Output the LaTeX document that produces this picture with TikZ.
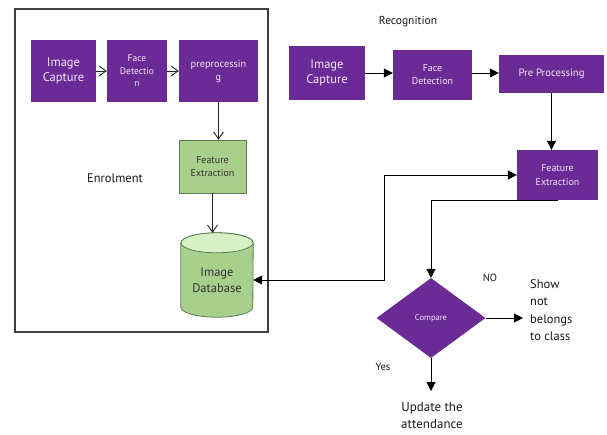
\documentclass[tikz,border=0pt]{standalone}
\usepackage{fontspec}
\setmainfont{PT Sans}
\usetikzlibrary{arrows.meta,shapes.geometric,calc}
\definecolor{purp}{HTML}{6A2B96}
\definecolor{grn}{HTML}{A9CF8C}
\definecolor{grnlt}{HTML}{D8F0C6}
\definecolor{grnbd}{HTML}{5E7A52}
\definecolor{boxtxt}{HTML}{F4E6F8}
\tikzset{
  pbox/.style={rectangle, fill=purp, text=boxtxt, inner sep=1pt, align=center},
  gbox/.style={rectangle, fill=grn, draw=grnbd, line width=0.8pt, text=black!80, inner sep=1pt, align=center},
  openarr/.style={-{Straight Barb[length=7pt,width=10pt]}, line width=0.9pt, black!85},
  fillarr/.style={-{Triangle[length=9pt,width=9pt]}, line width=1pt, black},
  lbl/.style={text=black!90, inner sep=1pt}
}
\begin{document}
\begin{tikzpicture}[x=1pt,y=-1pt]
\useasboundingbox (0,0) rectangle (607,434);
\fill[white] (0,0) rectangle (607,434);
% Enrolment frame
\draw[black!75, line width=1.1pt] (15,9) rectangle (268,332);
\node[pbox, minimum width=65pt, minimum height=62pt, font=\fontsize{12.5}{15}\selectfont] (ic1) at (63.5,71) {Image\\Capture};
\node[pbox, minimum width=60pt, minimum height=62pt, font=\fontsize{9.5}{12.5}\selectfont] (fd1) at (137,71) {Face\\Detectio\\n};
\node[pbox, minimum width=79pt, minimum height=62pt, font=\fontsize{10.3}{13}\selectfont] (pp1) at (218.5,71) {preprocessin\\g};
\node[gbox, minimum width=67pt, minimum height=53pt, font=\fontsize{10}{13}\selectfont] (fe1) at (212.5,166.5) {Feature\\Extraction};
\node[lbl, font=\fontsize{12.5}{14}\selectfont] (enr) at (115,178) {Enrolment};
% database cylinder
\node[minimum width=72pt, minimum height=84pt, inner sep=0pt] (db) at (217,275) {};
\draw[grnbd, fill=grn, line width=0.8pt] ($(db.north west)+(0,10)$) -- ($(db.south west)+(0,-10)$) arc[start angle=180, end angle=360, x radius=36, y radius=-10] -- ($(db.north east)+(0,10)$) arc[start angle=0, end angle=180, x radius=36, y radius=-10] -- cycle;
\draw[grnbd, fill=grnlt, line width=0.8pt] ($(db.north)+(0,10)$) ellipse[x radius=36, y radius=10];
\node[text=black!80, align=center, font=\fontsize{12.5}{16}\selectfont] (dbt) at (217,280) {Image\\Database};
\draw[openarr] (ic1) -- (fd1);
\draw[openarr] (fd1) -- (pp1);
\draw[openarr] (pp1.south) -- (pp1.south |- fe1.north);
\draw[openarr] (fe1.south) -- (fe1.south |- db.north);
% Recognition
\node[lbl, font=\fontsize{11.5}{13}\selectfont] (rec) at (408,22) {Recognition};
\node[pbox, minimum width=76pt, minimum height=54pt, font=\fontsize{12.5}{15.5}\selectfont] (ic2) at (327,73) {Image\\Capture};
\node[pbox, minimum width=79pt, minimum height=50pt, font=\fontsize{10}{13}\selectfont] (fd2) at (432.5,75) {Face\\Detection};
\node[pbox, minimum width=105pt, minimum height=38pt, font=\fontsize{10.7}{13}\selectfont] (pp2) at (551.5,74) {Pre Processing};
\node[pbox, minimum width=81pt, minimum height=50pt, font=\fontsize{10}{13.5}\selectfont] (fe2) at (557.5,175) {Feature\\Extraction};
\node[diamond, fill=purp, text=boxtxt, minimum width=109pt, minimum height=80pt, inner sep=0pt, font=\fontsize{8.5}{10}\selectfont] (cmp) at (431,318) {Compare};
\draw[fillarr] (ic2) -- (fd2.west |- ic2.east);
\draw[fillarr] (fd2.east |- ic2.east) -- (pp2.west |- ic2.east);
\draw[fillarr] (pp2.south) -- (pp2.south |- fe2.north);
\coordinate (j) at (384,0);
\draw[line width=1pt, {Triangle[length=9pt,width=9pt]}-{Triangle[length=9pt,width=9pt]}] ([yshift=-5pt]db.east) -| (j |- fe2.west) -- (fe2.west);
\draw[fillarr] (fe2.south) -| (cmp.north);
\node[lbl, font=\fontsize{10.5}{12}\selectfont] (no) at (490,278) {NO};
\node[lbl, font=\fontsize{10.5}{12}\selectfont] (yes) at (383,367) {Yes};
\node[lbl, anchor=north west, align=left, font=\fontsize{12.5}{17.5}\selectfont] (show) at (529,278) {Show\\not\\belongs\\to class};
\coordinate (sa) at (523,0);
\draw[fillarr] (cmp.east) -- (sa |- cmp.east);
\node[lbl, align=center, font=\fontsize{13}{17}\selectfont] (upd) at (432,416) {Update the\\attendance};
\draw[fillarr] (cmp.south) -- (cmp.south |- 0,391);
\end{tikzpicture}
\end{document}
